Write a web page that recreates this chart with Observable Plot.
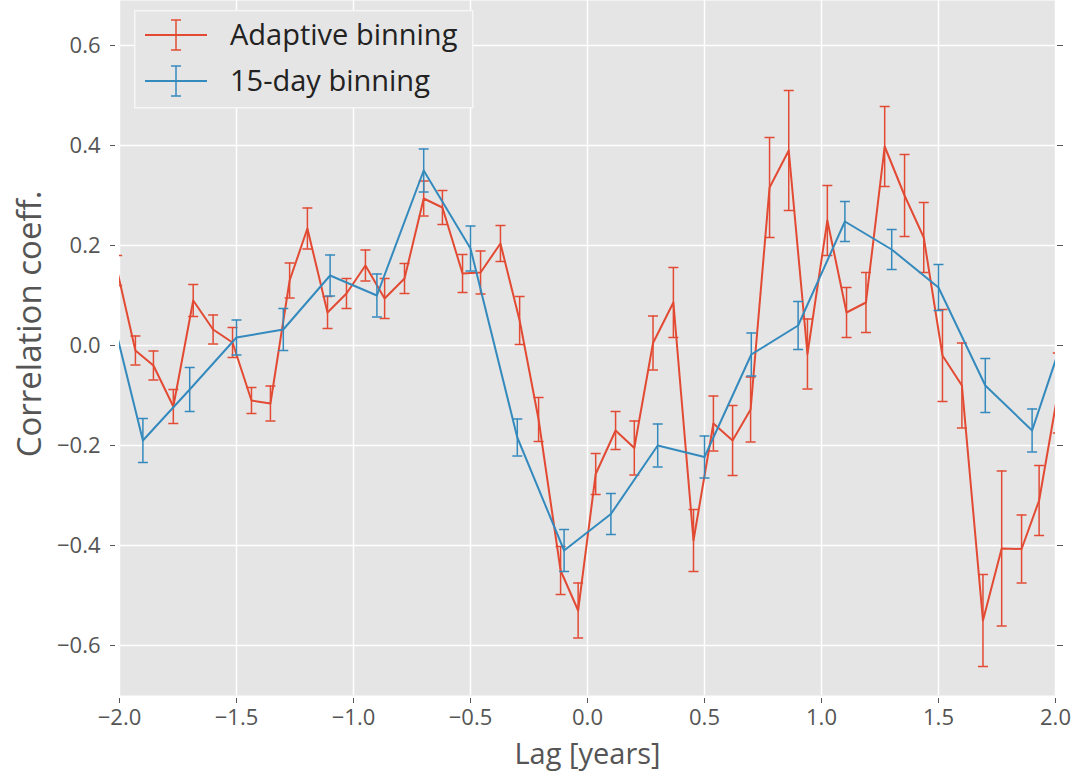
<!DOCTYPE html>
<html>
<head>
<meta charset="utf-8">
<script src="https://cdn.jsdelivr.net/npm/d3@7"></script>
<script src="https://cdn.jsdelivr.net/npm/@observablehq/plot@0.6"></script>
<style>
  html, body { margin: 0; padding: 0; background: #fff; }
  #chart { position: relative; width: 1074px; height: 774px; font-family: "Open Sans", "DejaVu Sans", sans-serif; }
  #legend { position: absolute; left: 134px; top: 10px; }
</style>
</head>
<body>
<div id="chart"></div>
<script>
// Adaptive binning: lag (years), correlation coefficient, 1-sigma error
const adaptiveLag = [-2.01, -1.932, -1.855, -1.77, -1.685, -1.60, -1.517, -1.436, -1.355, -1.273,
  -1.197, -1.111, -1.03, -0.949, -0.867, -0.782, -0.70, -0.62, -0.534, -0.457,
  -0.372, -0.29, -0.209, -0.115, -0.04, 0.035, 0.12, 0.20, 0.28, 0.367,
  0.453, 0.538, 0.62, 0.697, 0.778, 0.86, 0.94, 1.025, 1.107, 1.19,
  1.27, 1.355, 1.437, 1.517, 1.60, 1.69, 1.77, 1.855, 1.93, 2.01];
const adaptiveCorr = [0.15, -0.01, -0.04, -0.122, 0.09, 0.032, 0.006, -0.11, -0.116, 0.13,
  0.234, 0.066, 0.104, 0.16, 0.094, 0.134, 0.294, 0.276, 0.144, 0.146,
  0.204, 0.05, -0.148, -0.45, -0.53, -0.257, -0.17, -0.205, 0.005, 0.086,
  -0.39, -0.156, -0.19, -0.128, 0.316, 0.39, -0.017, 0.25, 0.066, 0.086,
  0.398, 0.30, 0.216, -0.02, -0.08, -0.55, -0.406, -0.407, -0.31, -0.095];
const adaptiveErr = [0.03, 0.029, 0.029, 0.034, 0.032, 0.029, 0.03, 0.026, 0.035, 0.035,
  0.041, 0.032, 0.03, 0.031, 0.04, 0.03, 0.035, 0.034, 0.038, 0.043,
  0.036, 0.048, 0.044, 0.048, 0.055, 0.041, 0.038, 0.054, 0.054, 0.07,
  0.062, 0.055, 0.07, 0.065, 0.10, 0.12, 0.07, 0.07, 0.05, 0.06,
  0.08, 0.082, 0.07, 0.092, 0.085, 0.092, 0.155, 0.068, 0.07, 0.08];

// 15-day binning
const dayLag = [-2.1, -1.9, -1.7, -1.5, -1.3, -1.1, -0.9, -0.7, -0.5, -0.3, -0.1,
  0.1, 0.3, 0.5, 0.7, 0.9, 1.1, 1.3, 1.5, 1.7, 1.9, 2.1];
const dayCorr = [0.19, -0.19, -0.088, 0.016, 0.032, 0.14, 0.10, 0.35, 0.194, -0.184, -0.41,
  -0.337, -0.20, -0.223, -0.018, 0.04, 0.248, 0.192, 0.116, -0.08, -0.17, 0.11];
const dayErr = [0.04, 0.044, 0.044, 0.035, 0.042, 0.041, 0.043, 0.043, 0.045, 0.037, 0.042,
  0.041, 0.043, 0.042, 0.043, 0.048, 0.04, 0.04, 0.046, 0.054, 0.043, 0.04];

const xTicks = [-2.0, -1.5, -1.0, -0.5, 0.0, 0.5, 1.0, 1.5, 2.0];
const yTicks = [-0.6, -0.4, -0.2, 0.0, 0.2, 0.4, 0.6];

const seriesNames = ["Adaptive binning", "15-day binning"];
const seriesColors = ["#E24A33", "#348ABD"];

const toRows = (lag, corr, err) => lag.map((x, i) => ({x, y: corr[i], e: err[i]}));
const adaptive = toRows(adaptiveLag, adaptiveCorr, adaptiveErr);
const daily = toRows(dayLag, dayCorr, dayErr);

// horizontal cap for error bars
const capSymbol = {
  draw(context, size) {
    const w = Math.sqrt(size / Math.PI);
    context.moveTo(-w, 0);
    context.lineTo(w, 0);
  }
};

function seriesMarks(rows, color) {
  return [
    Plot.line(rows, {x: "x", y: "y", stroke: color, strokeWidth: 2, clip: true}),
    Plot.ruleX(rows, {x: "x", y1: d => d.y - d.e, y2: d => d.y + d.e, stroke: color, strokeWidth: 1.5, clip: true}),
    Plot.dot(rows, {x: "x", y: d => d.y - d.e, symbol: capSymbol, r: 5, stroke: color, fill: "none", strokeWidth: 1.5, clip: true}),
    Plot.dot(rows, {x: "x", y: d => d.y + d.e, symbol: capSymbol, r: 5, stroke: color, fill: "none", strokeWidth: 1.5, clip: true})
  ];
}

const fmt = d3.format(".1f");

const plot = Plot.plot({
  width: 1074,
  height: 774,
  marginLeft: 119,
  marginRight: 19,
  marginTop: 0,
  marginBottom: 79,
  x: {domain: [-2, 2]},
  y: {domain: [-0.7, 0.69]},
  style: {fontFamily: "'Open Sans', 'DejaVu Sans', sans-serif", fontSize: "22px", color: "#555", background: "#fff"},
  marks: [
    Plot.frame({fill: "#E5E5E5", stroke: null}),
    Plot.gridX(xTicks, {stroke: "#fff", strokeOpacity: 1, strokeWidth: 1.5}),
    Plot.gridY(yTicks, {stroke: "#fff", strokeOpacity: 1, strokeWidth: 1.5}),
    Plot.axisX(xTicks, {tickSize: 5, tickPadding: 6, dy: 3, tickFormat: fmt, label: null, stroke: "#555"}),
    Plot.axisY(yTicks, {tickSize: 5, tickPadding: 10, dx: -4, tickFormat: fmt, label: null, stroke: "#555"}),
    Plot.axisY(yTicks, {anchor: "right", tickSize: 6, dx: 1, tickFormat: () => "", label: null, stroke: "#555"}),
    ...seriesMarks(adaptive, seriesColors[0]),
    ...seriesMarks(daily, seriesColors[1]),
    Plot.text(["Lag [years]"], {frameAnchor: "bottom", dy: 59, fontSize: 29, fill: "#555", textAnchor: "middle", lineAnchor: "middle"}),
    Plot.text(["Correlation coeff."], {frameAnchor: "left", dx: -89, dy: -24, rotate: -90, fontSize: 33, fill: "#555", textAnchor: "middle", lineAnchor: "middle"})
  ]
});

const chart = document.getElementById("chart");
chart.appendChild(plot);

// legend box drawn over the upper-left corner of the plot
const legend = d3.select(chart).append("svg")
  .attr("id", "legend")
  .attr("width", 340)
  .attr("height", 100);
legend.append("rect")
  .attr("x", 0.75).attr("y", 0.75).attr("width", 338).attr("height", 97)
  .attr("fill", "#E5E5E5").attr("stroke", "#f6f6f6").attr("stroke-width", 1.5);
seriesNames.forEach((name, i) => {
  const cy = 25 + i * 46;
  const g = legend.append("g").attr("stroke", seriesColors[i]);
  g.append("line").attr("x1", 11).attr("x2", 73).attr("y1", cy).attr("y2", cy).attr("stroke-width", 2);
  g.append("line").attr("x1", 42).attr("x2", 42).attr("y1", cy - 15).attr("y2", cy + 15).attr("stroke-width", 1.5);
  g.append("line").attr("x1", 37).attr("x2", 47).attr("y1", cy - 15).attr("y2", cy - 15).attr("stroke-width", 1.5);
  g.append("line").attr("x1", 37).attr("x2", 47).attr("y1", cy + 15).attr("y2", cy + 15).attr("stroke-width", 1.5);
  legend.append("text")
    .attr("x", 96).attr("y", cy + 10)
    .attr("font-family", "'Open Sans', 'DejaVu Sans', sans-serif")
    .attr("font-size", 29)
    .attr("fill", "#222")
    .text(name);
});
</script>
</body>
</html>
